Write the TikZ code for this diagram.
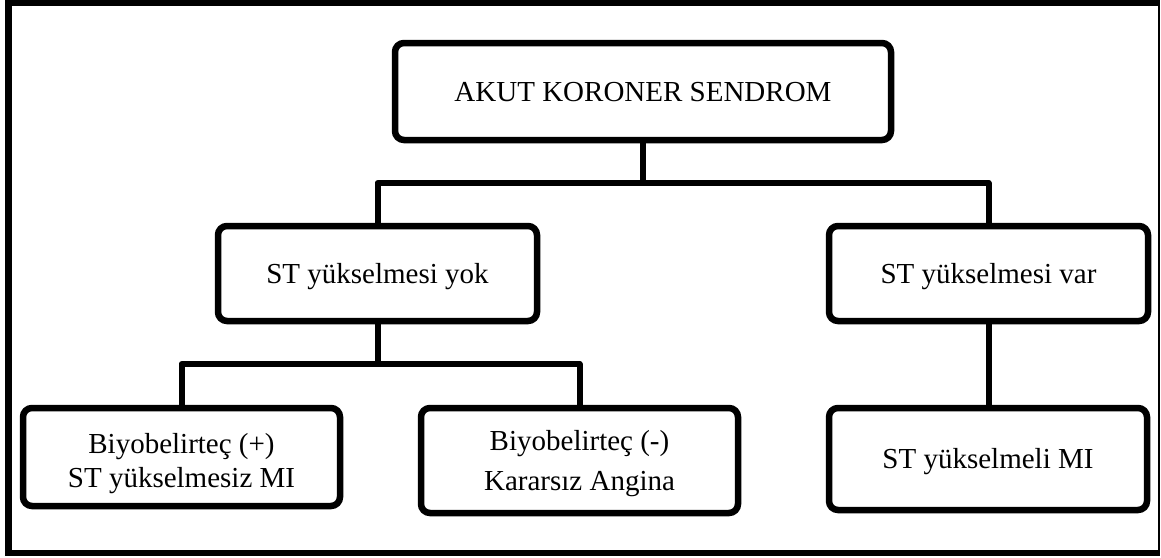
\documentclass[tikz,border=0pt]{standalone}
\usepackage{fontspec}
\setmainfont{Liberation Serif}
\tikzset{
  box/.style={draw=black, fill=white, line width=6.5pt, rounded corners=9pt,
    outer sep=0pt, inner sep=0pt, font=\fontsize{29}{34}\selectfont, align=center},
  oneline/.style={text height=19pt, text depth=0pt},
  conn/.style={draw=black, line width=6pt, line join=round}
}
\begin{document}
\begin{tikzpicture}[x=1pt,y=-1pt]
\useasboundingbox (0,0) rectangle (1161,557);
% outer frame
\fill[black] (5,0) rectangle (1159.5,556);
\fill[white] (12,6) rectangle (1157.5,550);
% boxes
\node[box, oneline, minimum width=496pt, minimum height=97pt] (top) at (643,91.5) {AKUT KORONER SENDROM};
\node[box, oneline, minimum width=319pt, minimum height=95pt] (yok) at (377.5,273.5) {ST yükselmesi yok};
\node[box, oneline, minimum width=319pt, minimum height=95pt] (var) at (988.5,273.5) {ST yükselmesi var};
\node[box, minimum width=317pt, minimum height=98pt] (plus) at (181.5,457)
  {\raisebox{0pt}[19pt][27pt]{\begin{tabular}[t]{@{}c@{}}Biyobelirteç (+)\\ ST yükselmesiz MI\end{tabular}}};
\node[box, minimum width=317pt, minimum height=105pt] (minus) at (579.5,460.5)
  {\raisebox{0pt}[19pt][40pt]{\begin{tabular}[t]{@{}c@{}}Biyobelirteç (-)\\[6pt] Kararsız Angina\end{tabular}}};
\node[box, oneline, minimum width=318pt, minimum height=102pt] (mi) at (988,459) {ST yükselmeli MI};
% junctions
\coordinate (j1) at (643,183);
\coordinate (j2) at (377.5,364);
% connectors
\draw[conn] (top.south) -- (j1);
\draw[conn] (yok.north) |- (j1) -| (var.north);
\draw[conn] (yok.south) -- (j2);
\draw[conn] (plus.north) |- (j2) -| (minus.north);
\draw[conn] (var.south) -- (var.south |- mi.north);
\end{tikzpicture}
\end{document}
